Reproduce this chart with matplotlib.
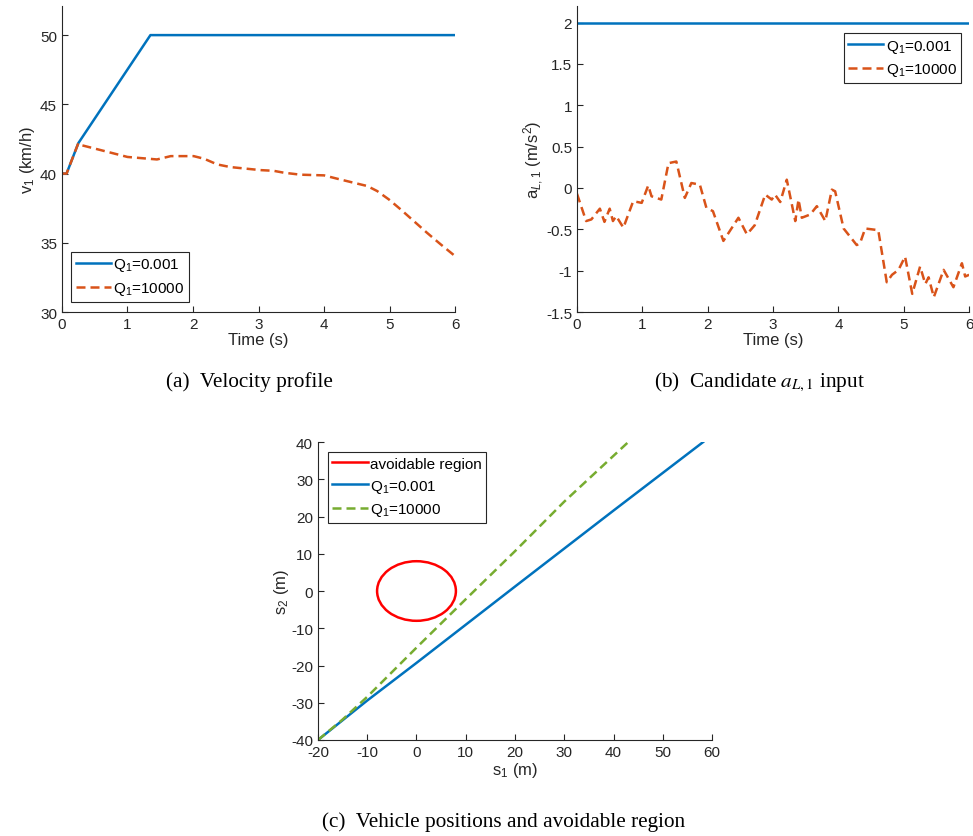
import matplotlib
matplotlib.use("Agg")
import matplotlib.pyplot as plt
from matplotlib.lines import Line2D
from matplotlib.patches import Ellipse

plt.rcParams["font.family"] = ["Liberation Sans", "DejaVu Sans"]
plt.rcParams["mathtext.fontset"] = "custom"
plt.rcParams["mathtext.rm"] = "Liberation Sans"
plt.rcParams["mathtext.it"] = "Liberation Sans:italic"
plt.rcParams["axes.unicode_minus"] = False

# (a) velocity profile
t_a_blue = [0, 0.07, 0.25, 1.35, 6.0]
v_blue = [40, 40, 42.2, 50, 50]
t_a_orange = [0, 0.07, 0.25, 0.29, 1.0, 1.45, 1.66, 2.01, 2.17, 2.37, 2.57, 3.03, 3.23,
              3.39, 3.64, 4.0, 4.2, 4.45, 4.66, 4.81, 4.99, 5.17, 5.37, 5.57, 5.78, 6.0]
v_orange = [40, 40, 42.2, 42.06, 41.2, 41.02, 41.26, 41.26, 41.07, 40.66, 40.47, 40.25, 40.2,
            40.06, 39.92, 39.87, 39.63, 39.34, 39.1, 38.74, 38.13, 37.41, 36.57, 35.73, 34.89, 34.04]

# (b) candidate input
t_b_blue = [0, 6]
a_blue = [2, 2]
t_b_orange = [0, 0.14, 0.22, 0.35, 0.42, 0.50, 0.55, 0.60, 0.71, 0.86, 0.99, 1.09, 1.14, 1.29,
              1.40, 1.52, 1.65, 1.75, 1.88, 1.98, 2.08, 2.24, 2.47, 2.60, 2.72, 2.88, 2.98, 3.03,
              3.11, 3.21, 3.34, 3.39, 3.44, 3.57, 3.67, 3.80, 3.90, 3.95, 4.08, 4.28, 4.33, 4.41,
              4.61, 4.74, 4.82, 4.92, 5.02, 5.13, 5.25, 5.33, 5.38, 5.46, 5.61, 5.76, 5.89, 5.94, 6.0]
a_orange = [-0.07, -0.40, -0.38, -0.25, -0.41, -0.25, -0.40, -0.34, -0.48, -0.16, -0.18, 0.03,
            -0.10, -0.14, 0.30, 0.32, -0.12, 0.06, 0.04, -0.24, -0.28, -0.64, -0.36, -0.56, -0.45,
            -0.08, -0.14, -0.08, -0.17, 0.10, -0.40, -0.14, -0.36, -0.32, -0.22, -0.40, -0.02,
            -0.04, -0.49, -0.69, -0.67, -0.49, -0.51, -1.14, -1.05, -0.99, -0.83, -1.28, -0.95,
            -1.16, -1.08, -1.32, -0.99, -1.20, -0.91, -1.07, -1.05]

# (c) positions
s1_blue = [-20, -10, 0, 20, 40, 58.2]
s2_blue = [-40, -29.4, -19.3, 1.2, 21.6, 40]
s1_green = [-20, -15, -10, 0, 10, 20, 30, 43]
s2_green = [-40, -34.5, -28.4, -15.2, -2.2, 10.7, 24.0, 40]
region_center = (0, 0)
region_radius = 8

BLUE = "#0072BD"
ORANGE = "#D95319"
GREEN = "#77AC30"
AXC = "#262626"
LW = 1.8
DASH = (3.6, 2.0)

fig = plt.figure(figsize=(9.73, 8.37), dpi=100)


def style(ax):
    for s in ["top", "right"]:
        ax.spines[s].set_visible(False)
    for s in ["left", "bottom"]:
        ax.spines[s].set_color(AXC)
        ax.spines[s].set_linewidth(0.8)
    ax.tick_params(direction="in", length=4, width=0.8, colors=AXC, labelsize=11)


def legend(ax, handles=None, **kw):
    leg = ax.legend(handles=handles, fontsize=11, fancybox=False, framealpha=1,
                    edgecolor=AXC, handlelength=2.3, handletextpad=0.15,
                    borderpad=0.3, labelspacing=0.45, borderaxespad=0, **kw)
    leg.get_frame().set_linewidth(0.8)
    return leg


ax1 = fig.add_axes([0.0637, 0.626, 0.404, 0.3656])
ax1.plot(t_a_blue, v_blue, color=BLUE, lw=LW, label=r"Q$_1$=0.001")
ax1.plot(t_a_orange, v_orange, color=ORANGE, lw=LW, dashes=DASH, label=r"Q$_1$=10000")
ax1.set_xlim(0, 6)
ax1.set_ylim(30, 52.1)
ax1.set_yticks([30, 35, 40, 45, 50])
ax1.set_xlabel("Time (s)", fontsize=12, color=AXC, labelpad=1)
ax1.set_ylabel(r"v$_1$ (km/h)", fontsize=12, color=AXC, labelpad=2)
style(ax1)
legend(ax1, loc="lower left", bbox_to_anchor=(0.023, 0.033))

ax2 = fig.add_axes([0.593, 0.626, 0.403, 0.3656])
ax2.plot(t_b_blue, a_blue, color=BLUE, lw=LW, label=r"Q$_1$=0.001")
ax2.plot(t_b_orange, a_orange, color=ORANGE, lw=LW, dashes=DASH, label=r"Q$_1$=10000")
ax2.set_xlim(0, 6)
ax2.set_ylim(-1.5, 2.2)
ax2.set_yticks([-1.5, -1, -0.5, 0, 0.5, 1, 1.5, 2])
ax2.set_yticklabels(["-1.5", "-1", "-0.5", "0", "0.5", "1", "1.5", "2"])
ax2.set_xlabel("Time (s)", fontsize=12, color=AXC, labelpad=1)
ax2.set_ylabel(r"a$_{L,1}$ (m/s$^2$)", fontsize=12, color=AXC, labelpad=0)
style(ax2)
legend(ax2, loc="upper right", bbox_to_anchor=(0.98, 0.912))

ax3 = fig.add_axes([0.3268, 0.1147, 0.405, 0.356])
ax3.add_patch(Ellipse(region_center, 2 * region_radius, 2 * region_radius,
                      fill=False, edgecolor="red", lw=LW))
ax3.plot(s1_blue, s2_blue, color=BLUE, lw=LW)
ax3.plot(s1_green, s2_green, color=GREEN, lw=LW, dashes=DASH)
ax3.set_xlim(-20, 60)
ax3.set_ylim(-40, 40)
ax3.set_xticks(range(-20, 61, 10))
ax3.set_yticks(range(-40, 41, 10))
ax3.set_xlabel(r"s$_1$ (m)", fontsize=12, color=AXC, labelpad=1)
ax3.set_ylabel(r"s$_2$ (m)", fontsize=12, color=AXC, labelpad=0)
style(ax3)
handles = [Line2D([], [], color="red", lw=LW, label="avoidable region"),
           Line2D([], [], color=BLUE, lw=LW, label=r"Q$_1$=0.001"),
           Line2D([], [], color=GREEN, lw=LW, dashes=DASH, label=r"Q$_1$=10000")]
legend(ax3, handles=handles, loc="upper left", bbox_to_anchor=(0.025, 0.966))

cap = dict(fontsize=15.3, family=["Liberation Serif", "DejaVu Serif"], ha="center", va="center",
           math_fontfamily="stix")
fig.text(0.256, 0.5436, "(a)  Velocity profile", **cap)
fig.text(0.7806, 0.5436, r"(b)  Candidate $a_{L,1}$ input", **cap)
fig.text(0.5175, 0.018, "(c)  Vehicle positions and avoidable region", **cap)

fig.savefig("out.png", dpi=100)
